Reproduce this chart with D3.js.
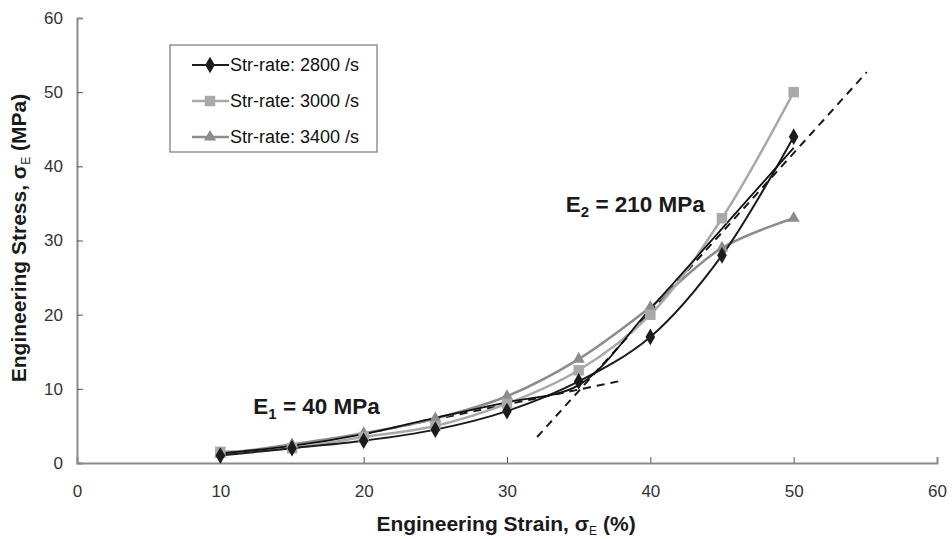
<!DOCTYPE html>
<html>
<head>
<meta charset="utf-8">
<script src="https://cdn.jsdelivr.net/npm/d3@7"></script>
<style>
  body { margin: 0; background: #fff; }
  svg { font-family: "Liberation Sans", Arial, sans-serif; }
</style>
</head>
<body>
<svg id="chart" width="952" height="539"></svg>
<script>
// strain values (%)
var strain = [10, 15, 20, 25, 30, 35, 40, 45, 50];
// stress values (MPa) per strain rate
var rate2800 = [1.0, 2.0, 3.0, 4.5, 7.0, 11.0, 17.0, 28.0, 44.0];
var rate3000 = [1.5, 2.0, 3.5, 5.0, 8.0, 12.5, 20.0, 33.0, 50.0];
var rate3400 = [1.2, 2.5, 4.0, 6.0, 9.0, 14.0, 21.0, 29.0, 33.0];
// unlabelled black guide curve
var fitCurve = [1.3, 2.3, 3.9, 6.1, 8.2, 10.5, 20.8, 31.6, 42.5];
// tangent lines [strain, stress]
var e1Line = [[20, 3.9], [38, 11.1]];
var e2Line = [[32.1, 3.5], [55.1, 52.7]];
var xTicks = [0, 10, 20, 30, 40, 50, 60];
var yTicks = [0, 10, 20, 30, 40, 50, 60];
var seriesNames = ["Str-rate: 2800 /s", "Str-rate: 3000 /s", "Str-rate: 3400 /s"];

var svg = d3.select("#chart");
var margin = {top: 18, right: 15, bottom: 76, left: 77};
var width = 937 - margin.left;
var height = 463 - margin.top;

var g = svg.append("g").attr("transform", "translate(" + margin.left + "," + margin.top + ")");

var x = d3.scaleLinear().domain([0, 60]).range([0, width]);
var y = d3.scaleLinear().domain([0, 60]).range([height, 0]);

var axisColor = "#8a8a8a";

// axes with inward ticks
var xAxis = g.append("g")
    .attr("transform", "translate(0," + height + ")")
    .call(d3.axisBottom(x).tickValues(xTicks).tickSize(-6).tickPadding(19));
var yAxis = g.append("g")
    .call(d3.axisLeft(y).tickValues(yTicks).tickSize(-6).tickPadding(14));

[xAxis, yAxis].forEach(function(a) {
  a.select(".domain").attr("stroke", axisColor).attr("stroke-width", 2);
  a.selectAll(".tick line").attr("stroke", "#555");
  a.selectAll(".tick text")
    .style("font-size", "17px")
    .style("font-family", "Liberation Sans, Arial, sans-serif")
    .attr("fill", "#333");
});
xAxis.selectAll(".tick line").filter(function(d) { return d === 0 || d === 60; }).remove();
yAxis.selectAll(".tick line").filter(function(d) { return d === 0 || d === 60; }).remove();
xAxis.selectAll(".tick text").attr("dy", "0.9em");

var smooth = d3.line()
    .x(function(d) { return x(d[0]); })
    .y(function(d) { return y(d[1]); })
    .curve(d3.curveCatmullRom.alpha(0.5));
var straight = d3.line()
    .x(function(d) { return x(d[0]); })
    .y(function(d) { return y(d[1]); });

function pairs(vals) {
  return strain.map(function(s, i) { return [s, vals[i]]; });
}

var series = [
  {name: seriesNames[0], vals: rate2800, color: "#1c1c1c", symbol: d3.symbolDiamond, size: 80, width: 2},
  {name: seriesNames[1], vals: rate3000, color: "#a9a9a9", symbol: d3.symbolSquare, size: 110, width: 2.5},
  {name: seriesNames[2], vals: rate3400, color: "#8c8c8c", symbol: d3.symbolTriangle, size: 65, width: 2.5}
];

// dashed tangent lines
[e1Line, e2Line].forEach(function(l) {
  g.append("path")
    .datum(l)
    .attr("fill", "none")
    .attr("stroke", "#1a1a1a")
    .attr("stroke-width", 2)
    .attr("stroke-dasharray", "8,6")
    .attr("d", straight);
});

// series lines (drawn back to front)
[series[2], series[1], series[0]].forEach(function(s) {
  g.append("path")
    .datum(pairs(s.vals))
    .attr("fill", "none")
    .attr("stroke", s.color)
    .attr("stroke-width", s.width)
    .attr("d", smooth);
});

g.append("path")
  .datum(pairs(fitCurve))
  .attr("fill", "none")
  .attr("stroke", "#111")
  .attr("stroke-width", 1.8)
  .attr("d", smooth);

// markers
[series[2], series[1], series[0]].forEach(function(s) {
  g.selectAll(null)
    .data(pairs(s.vals))
    .enter().append("path")
    .attr("transform", function(d) { return "translate(" + x(d[0]) + "," + y(d[1]) + ")"; })
    .attr("d", d3.symbol().type(s.symbol).size(s.size))
    .attr("fill", s.color);
});

// annotations
function modulusLabel(sub, rest, sx, sy) {
  var t = g.append("text")
    .attr("x", x(sx)).attr("y", y(sy))
    .style("font-size", "22.5px").style("font-weight", "bold").attr("fill", "#1a1a1a");
  t.append("tspan").text("E");
  t.append("tspan").text(sub).attr("dy", 5).style("font-size", "15px");
  t.append("tspan").text(rest).attr("dy", -5);
}
modulusLabel("1", " = 40 MPa", 12.3, 6.6);
modulusLabel("2", " = 210 MPa", 34.1, 33.8);

// legend
var lg = svg.append("g").attr("transform", "translate(170,45)");
lg.append("rect")
  .attr("width", 207).attr("height", 107)
  .attr("fill", "#fff").attr("stroke", "#777").attr("stroke-width", 1.2);
series.forEach(function(s, i) {
  var row = lg.append("g").attr("transform", "translate(0," + (20 + i * 36) + ")");
  row.append("line")
    .attr("x1", 22).attr("x2", 59)
    .attr("stroke", s.color).attr("stroke-width", s.width);
  row.append("path")
    .attr("transform", "translate(40,0)")
    .attr("d", d3.symbol().type(s.symbol).size(s.size))
    .attr("fill", s.color);
  row.append("text")
    .attr("x", 60).attr("dy", "0.36em")
    .style("font-size", "18px").attr("fill", "#111")
    .text(s.name);
});

// axis titles
var xt = svg.append("text")
  .attr("x", 506).attr("y", 531)
  .attr("text-anchor", "middle")
  .style("font-size", "21px").style("font-weight", "bold").attr("fill", "#1a1a1a");
xt.append("tspan").text("Engineering Strain, σ");
xt.append("tspan").text("E").attr("dy", 4).style("font-size", "12px").style("font-weight", "normal");
xt.append("tspan").text(" (%)").attr("dy", -4);

var yt = svg.append("text")
  .attr("transform", "translate(26,238) rotate(-90)")
  .attr("text-anchor", "middle")
  .style("font-size", "21px").style("font-weight", "bold").attr("fill", "#1a1a1a");
yt.append("tspan").text("Engineering Stress, σ");
yt.append("tspan").text("E").attr("dy", 4).style("font-size", "12px").style("font-weight", "normal");
yt.append("tspan").text(" (MPa)").attr("dy", -4);
</script>
</body>
</html>
